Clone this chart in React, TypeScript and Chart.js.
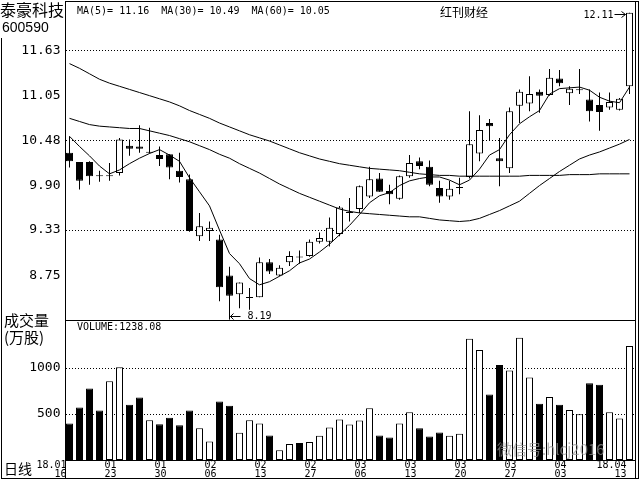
import React, { useEffect, useRef } from "react";
import { Chart, registerables } from "chart.js";
Chart.register(...registerables);

const stockName = "泰豪科技";
const stockCode = "600590";
const sourceLabel = "红刊财经";
const watermark = "微信号:hlcj2016";

const dates = [
  "01/16","01/17","01/18","01/19","01/22","01/23","01/24","01/25","01/26","01/29",
  "01/30","01/31","02/01","02/02","02/05","02/06","02/07","02/08","02/09","02/12",
  "02/13","02/14","02/22","02/23","02/26","02/27","02/28","03/01","03/02","03/05",
  "03/06","03/07","03/08","03/09","03/12","03/13","03/14","03/15","03/16","03/19",
  "03/20","03/21","03/22","03/23","03/26","03/27","03/28","03/29","03/30","04/02",
  "04/03","04/04","04/09","04/10","04/11","04/12","04/13",
];
const tickLabels = ["18.01/16","01/23","01/30","02/06","02/13","02/27","03/06","03/13","03/20","03/27","04/03","18.04/13"];

const opens = [
  10.32,10.20,10.20,10.03,10.02,10.06,10.41,10.40,10.32,10.29,
  10.30,10.09,9.98,9.25,9.32,9.21,8.75,8.51,8.46,8.47,
  8.92,8.75,8.92,8.99,9.00,9.18,9.18,9.28,9.55,9.60,
  9.76,9.99,9.83,9.73,10.02,10.21,10.14,9.87,9.76,9.87,
  10.01,10.31,10.70,10.25,10.12,10.92,10.95,11.10,11.06,11.27,
  11.08,11.12,11.00,10.93,10.90,10.87,11.17,
];
const highs = [
  10.53,10.20,10.21,10.09,10.19,10.51,10.49,10.67,10.64,10.40,
  10.30,10.32,10.04,9.55,9.44,9.27,8.86,8.66,8.59,8.98,
  8.96,8.88,9.06,9.07,9.21,9.30,9.49,9.64,9.74,9.90,
  10.14,10.06,9.91,10.03,10.29,10.26,10.22,9.96,9.96,10.00,
  10.85,10.80,10.75,10.51,10.90,11.13,11.30,11.13,11.39,11.38,
  11.17,11.39,11.13,11.09,11.09,11.02,12.11,
];
const lows = [
  10.13,9.85,9.91,9.95,9.96,10.03,10.28,10.32,10.31,10.15,
  9.98,9.94,9.31,9.19,9.19,8.42,8.19,8.33,8.31,8.47,
  8.77,8.74,8.87,8.90,8.99,9.16,9.12,9.25,9.44,9.55,
  9.74,9.82,9.66,9.72,10.00,10.11,9.89,9.68,9.72,9.79,
  9.99,10.21,10.47,9.89,10.06,10.70,10.85,10.83,11.05,11.17,
  10.93,11.07,10.72,10.60,10.87,10.86,11.07,
];
const closes = [
  10.21,9.96,10.02,10.02,10.02,10.49,10.37,10.37,10.32,10.24,
  10.13,10.01,9.32,9.38,9.36,8.60,8.49,8.66,8.46,8.92,
  8.80,8.85,9.00,8.98,9.18,9.23,9.36,9.62,9.55,9.89,
  9.98,9.82,9.79,10.02,10.19,10.15,9.91,9.76,9.86,9.87,
  10.43,10.61,10.66,10.21,10.85,11.10,11.07,11.05,11.28,11.21,
  11.14,11.12,10.85,10.84,10.97,11.01,12.11,
];
const volumes = [
  396,570,778,537,856,1008,600,678,433,389,
  459,378,537,344,200,637,589,296,433,396,
  267,107,174,185,196,263,352,441,385,430,
  563,267,244,396,519,344,256,300,263,285,
  1319,1196,711,1033,974,1330,896,611,685,600,
  544,496,833,819,519,452,1238.08,
];
const ma5 = [
  10.53,10.40,10.28,10.15,10.05,10.10,10.18,10.25,10.31,10.36,
  10.29,10.21,10.00,9.82,9.64,9.33,9.03,8.90,8.71,8.63,
  8.67,8.74,8.81,8.91,8.96,9.05,9.15,9.27,9.39,9.53,
  9.68,9.77,9.81,9.90,9.96,9.99,10.01,10.01,9.97,9.91,
  9.97,10.11,10.29,10.36,10.55,10.69,10.78,10.86,11.07,11.14,
  11.15,11.16,11.12,11.03,10.98,10.96,11.16,
];
const ma30 = [
  10.76,10.72,10.68,10.66,10.65,10.64,10.63,10.63,10.60,10.57,
  10.54,10.50,10.46,10.41,10.36,10.30,10.25,10.18,10.12,10.06,
  9.99,9.92,9.86,9.80,9.75,9.70,9.65,9.60,9.57,9.55,
  9.54,9.53,9.52,9.51,9.50,9.50,9.48,9.46,9.45,9.44,
  9.45,9.48,9.53,9.58,9.64,9.70,9.80,9.90,9.99,10.08,
  10.16,10.24,10.29,10.33,10.38,10.43,10.49,
];
const ma60 = [
  11.46,11.40,11.33,11.26,11.21,11.17,11.13,11.09,11.05,11.01,
  10.97,10.92,10.86,10.81,10.76,10.70,10.65,10.60,10.55,10.51,
  10.47,10.42,10.37,10.32,10.28,10.24,10.21,10.18,10.16,10.14,
  10.12,10.11,10.10,10.09,10.07,10.05,10.04,10.03,10.03,10.02,
  10.02,10.02,10.02,10.02,10.02,10.02,10.03,10.03,10.03,10.03,
  10.04,10.04,10.04,10.05,10.05,10.05,10.05,
];
const priceTicks = [8.75, 9.33, 9.90, 10.48, 11.05, 11.63];
const priceGridTicks = [9.33, 10.48, 11.63];
const volumeTicks = [500, 1000];

const MONO = "'DejaVu Sans Mono', monospace";
const CJK = "'Noto Sans CJK SC', sans-serif";

const isUp = (i: number) => closes[i] >= opens[i];
const candleColors = opens.map((_, i) => (isUp(i) ? "#ffffff" : "#000000"));

function xTick(i: number): string[] | string {
  const d = dates[i];
  const t = tickLabels.find((l) => l.slice(-5) === d);
  if (!t) return "";
  const parts = t.split("/");
  return [parts[0], parts[1]];
}

function dottedGrid(chart: any, values: number[]) {
  const ctx = chart.ctx;
  const y = chart.scales.y;
  const area = chart.chartArea;
  ctx.save();
  ctx.fillStyle = "#000";
  values.forEach((v) => {
    const row = Math.round(y.getPixelForValue(v) - 0.5);
    for (let px = Math.ceil(area.left) + 1; px < area.right; px += 3) ctx.fillRect(px, row, 1, 1);
  });
  ctx.restore();
}

const pricePlugin = {
  id: "priceText",
  beforeDatasetsDraw(chart: any) {
    dottedGrid(chart, priceGridTicks);
  },
  afterDraw(chart: any) {
    const ctx = chart.ctx;
    const x = chart.scales.x;
    const y = chart.scales.y;
    ctx.save();
    ctx.fillStyle = "#000";
    ctx.textBaseline = "middle";
    ctx.textAlign = "left";
    ctx.font = `16px ${CJK}`;
    ctx.fillText(stockName, 0, 10);
    ctx.font = "14px 'Liberation Sans', sans-serif";
    ctx.fillText(stockCode, 2, 28.5);
    ctx.font = `10px ${MONO}`;
    const last = ma5.length - 1;
    ctx.fillText(`MA(5)= ${ma5[last].toFixed(2)}  MA(30)= ${ma30[last].toFixed(2)}  MA(60)= ${ma60[last].toFixed(2)}`, 77, 11);
    ctx.font = `12px ${CJK}`;
    ctx.fillText(sourceLabel, 440, 12.5);

    let hi = 0, lo = 0;
    highs.forEach((v, i) => { if (v > highs[hi]) hi = i; });
    lows.forEach((v, i) => { if (v < lows[lo]) lo = i; });
    const hx = x.getPixelForValue(hi);
    const hy = Math.round(y.getPixelForValue(highs[hi])) + 1.5;
    ctx.font = `10px ${MONO}`;
    ctx.textAlign = "right";
    ctx.fillText(highs[hi].toFixed(2), hx - 16, hy + 1);
    ctx.strokeStyle = "#000";
    ctx.lineWidth = 1;
    ctx.beginPath();
    ctx.moveTo(hx - 15, hy); ctx.lineTo(hx - 4, hy);
    ctx.moveTo(hx - 8, hy - 3); ctx.lineTo(hx - 4, hy); ctx.lineTo(hx - 8, hy + 3);
    ctx.stroke();

    const lx = Math.floor(x.getPixelForValue(lo)) + 0.5;
    const ly = Math.min(Math.round(y.getPixelForValue(lows[lo])), 316) + 0.5;
    ctx.beginPath();
    ctx.moveTo(lx, ly - 4); ctx.lineTo(lx, ly + 3);
    ctx.moveTo(lx, ly); ctx.lineTo(lx + 11, ly);
    ctx.moveTo(lx + 4, ly - 3); ctx.lineTo(lx + 1, ly); ctx.lineTo(lx + 4, ly + 3);
    ctx.stroke();
    ctx.textAlign = "left";
    ctx.fillText(lows[lo].toFixed(2), lx + 18, ly);
    ctx.restore();
  },
};

const volPlugin = {
  id: "volText",
  beforeDatasetsDraw(chart: any) {
    dottedGrid(chart, volumeTicks);
  },
  afterDraw(chart: any) {
    const ctx = chart.ctx;
    ctx.save();
    ctx.fillStyle = "#000";
    ctx.fillRect(65, 1, 574, 1);
    ctx.fillRect(65, 1, 1, 478);
    ctx.fillRect(65, 320, 570, 1);
    ctx.fillRect(65, 460, 570, 1);
    ctx.fillRect(635, 1, 1, 478);
    ctx.fillRect(638, 1, 1, 478);
    ctx.fillRect(1, 478, 638, 1);
    ctx.fillRect(1, 38, 1, 441);

    ctx.textBaseline = "middle";
    ctx.textAlign = "left";
    ctx.font = `10px ${MONO}`;
    ctx.fillText(`VOLUME:${volumes[volumes.length - 1].toFixed(2)}`, 77, 327);
    ctx.font = `15px ${CJK}`;
    ctx.fillText("成交量", 4, 320);
    ctx.fillText("(万股)", 4, 337);
    ctx.font = `14px ${CJK}`;
    ctx.fillText("日线", 4, 469);
    ctx.font = `15px ${CJK}`;
    ctx.fillStyle = "rgba(150,150,150,0.7)";
    ctx.fillText(watermark, 497, 449);
    ctx.restore();
  },
};

export default function App() {
  const priceRef = useRef<HTMLCanvasElement>(null);
  const volRef = useRef<HTMLCanvasElement>(null);

  useEffect(() => {
    const priceChart = new Chart(priceRef.current as HTMLCanvasElement, {
      type: "bar",
      data: {
        labels: dates,
        datasets: [
          { type: "line", label: "MA5", data: ma5, borderColor: "#000", borderWidth: 1, pointRadius: 0, tension: 0, order: 0 } as any,
          { type: "line", label: "MA30", data: ma30, borderColor: "#000", borderWidth: 1, pointRadius: 0, tension: 0, order: 0 } as any,
          { type: "line", label: "MA60", data: ma60, borderColor: "#000", borderWidth: 1, pointRadius: 0, tension: 0, order: 0 } as any,
          {
            type: "bar", label: "body", data: opens.map((o, i) => [o, closes[i]]),
            backgroundColor: candleColors, borderColor: "#000", borderWidth: 1, borderSkipped: false,
            barThickness: 7, minBarLength: 1, grouped: false, inflateAmount: 0, order: 1,
          } as any,
          {
            type: "bar", label: "wick", data: lows.map((l, i) => [l, highs[i]]),
            backgroundColor: "#000", borderWidth: 0, barThickness: 1, grouped: false, inflateAmount: 0, order: 2,
          } as any,
        ],
      },
      options: {
        responsive: false,
        animation: false,
        devicePixelRatio: 1,
        events: [],
        layout: { padding: { top: 5, right: 5.5, bottom: 160, left: 0 } },
        plugins: { legend: { display: false }, tooltip: { enabled: false } },
        scales: {
          x: { display: false, offset: true, grid: { display: false } },
          y: {
            min: 8.18, max: 12.21,
            afterBuildTicks: (s: any) => { s.ticks = priceTicks.map((v) => ({ value: v })); },
            afterFit: (s: any) => { s.width = 64.5; s.paddingTop = 0; s.paddingBottom = 0; },
            ticks: { autoSkip: false, callback: (v: any) => Number(v).toFixed(2), font: { family: MONO, size: 13 }, color: "#000", padding: 4 },
            grid: { display: false, drawTicks: false },
            border: { display: false },
          },
        },
      } as any,
      plugins: [pricePlugin],
    });

    const volChart = new Chart(volRef.current as HTMLCanvasElement, {
      type: "bar",
      data: {
        labels: dates,
        datasets: [
          {
            label: "volume", data: volumes, backgroundColor: candleColors, borderColor: "#000", borderWidth: 1,
            borderSkipped: false, barThickness: 7, inflateAmount: 0,
          } as any,
        ],
      },
      options: {
        responsive: false,
        animation: false,
        devicePixelRatio: 1,
        events: [],
        layout: { padding: { top: 322, right: 5.5, bottom: 0, left: 0 } },
        plugins: { legend: { display: false }, tooltip: { enabled: false } },
        scales: {
          x: {
            offset: true,
            grid: { display: false, drawTicks: false },
            border: { display: false },
            afterFit: (s: any) => { s.height = 20; s.paddingLeft = 0; s.paddingRight = 0; },
            ticks: {
              autoSkip: false, maxRotation: 0, minRotation: 0, align: "end", labelOffset: -3, padding: 1,
              color: "#000", font: { family: MONO, size: 10, lineHeight: 0.9 },
              callback: (_v: any, i: number) => xTick(i),
            },
          },
          y: {
            min: 0, max: 1500,
            afterBuildTicks: (s: any) => { s.ticks = volumeTicks.map((v) => ({ value: v })); },
            afterFit: (s: any) => { s.width = 64.5; s.paddingTop = 0; s.paddingBottom = 0; },
            ticks: { autoSkip: false, callback: (v: any) => String(v), font: { family: MONO, size: 13 }, color: "#000", padding: 4 },
            grid: { display: false, drawTicks: false },
            border: { display: false },
          },
        },
      } as any,
      plugins: [volPlugin],
    });

    return () => { priceChart.destroy(); volChart.destroy(); };
  }, []);

  return (
    <div style={{ position: "fixed", left: 0, top: 0, width: 640, height: 480, background: "#fff" }}>
      <canvas ref={priceRef} width={640} height={480} style={{ position: "absolute", left: 0, top: 0 }} />
      <canvas ref={volRef} width={640} height={480} style={{ position: "absolute", left: 0, top: 0 }} />
    </div>
  );
}
